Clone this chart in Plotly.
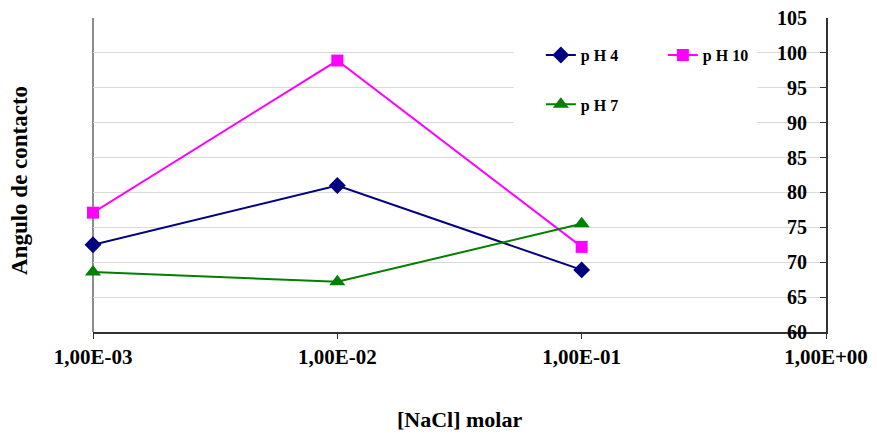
import plotly.graph_objects as go

# NaCl concentration (mol/L) and contact angle (degrees) per pH
nacl = [1e-3, 1e-2, 1e-1]
ph4 = [72.5, 81.0, 68.9]
ph10 = [77.1, 98.9, 72.2]
ph7 = [68.6, 67.2, 75.5]

x_tickvals = [1e-3, 1e-2, 1e-1, 1e0]
x_ticktext = ["1,00E-03", "1,00E-02", "1,00E-01", "1,00E+00"]

FONT = "Liberation Serif"

fig = go.Figure()
fig.add_trace(go.Scatter(
    x=nacl, y=ph4, name="p H 4", mode="lines+markers",
    line=dict(color="#000080", width=2),
    marker=dict(symbol="diamond", size=13, color="#000080"),
    legend="legend", cliponaxis=False,
))
fig.add_trace(go.Scatter(
    x=nacl, y=ph10, name="p H 10", mode="lines+markers",
    line=dict(color="#FF00FF", width=2),
    marker=dict(symbol="square", size=12, color="#FF00FF"),
    legend="legend", cliponaxis=False,
))
fig.add_trace(go.Scatter(
    x=nacl, y=ph7, name="p H 7", mode="lines+markers",
    line=dict(color="#008000", width=2),
    marker=dict(symbol="triangle-up", size=14, color="#008000"),
    legend="legend2", cliponaxis=False,
))

legend_style = dict(
    orientation="h", xanchor="left", yanchor="middle",
    bgcolor="rgba(0,0,0,0)", borderwidth=0, entrywidth=77,
    font=dict(family=FONT, size=16, color="black", weight="bold"),
)

fig.update_layout(
    width=877, height=435,
    margin=dict(l=93, r=51, t=18, b=103),
    paper_bgcolor="white", plot_bgcolor="white",
    font=dict(family=FONT, color="black"),
    showlegend=True,
    legend=dict(x=0.611, y=0.882, **legend_style),
    legend2=dict(x=0.611, y=0.725, **legend_style),
    xaxis=dict(
        type="log", range=[-3, 0], automargin=False,
        tickvals=x_tickvals, ticktext=x_ticktext,
        ticks="outside", ticklen=5, tickcolor="#333", tickwidth=1,
        ticklabeloverflow="allow",
        showline=True, linecolor="#333", linewidth=1.5,
        showgrid=False, zeroline=False,
        tickfont=dict(family=FONT, size=21, color="black", weight="bold"),
    ),
    yaxis=dict(
        side="right", range=[60, 105], dtick=5, automargin=False,
        ticks="inside", ticklen=6, tickcolor="#333", tickwidth=1,
        ticklabelposition="inside", ticklabelstandoff=14,
        ticklabeloverflow="allow",
        showline=True, linecolor="#333", linewidth=2,
        showgrid=True, gridcolor="#d9d9d9", gridwidth=1, zeroline=False,
        tickfont=dict(family=FONT, size=20, color="black", weight="bold"),
    ),
    shapes=[
        # gray left frame line of the plot area
        dict(type="line", xref="x domain", yref="y domain",
             x0=0, x1=0, y0=0, y1=1,
             line=dict(color="#8c8c8c", width=2), layer="below"),
        # white panel behind the legend entries
        dict(type="rect", xref="paper", yref="paper",
             x0=0.574, x1=0.906, y0=0.650, y1=0.930,
             fillcolor="white", line=dict(width=0), layer="above"),
    ],
    annotations=[
        dict(text="Angulo de contacto", textangle=-90,
             xref="paper", yref="paper", x=-0.101, y=0.484,
             xanchor="center", yanchor="middle", showarrow=False,
             font=dict(family=FONT, size=23, color="black", weight="bold")),
        dict(text="[NaCl] molar",
             xref="paper", yref="paper", x=0.5, y=-0.280,
             xanchor="center", yanchor="middle", showarrow=False,
             font=dict(family=FONT, size=22, color="black", weight="bold")),
    ],
)

fig.write_html("out.html")
